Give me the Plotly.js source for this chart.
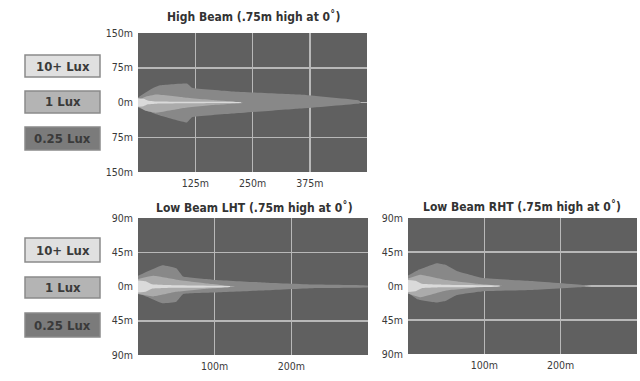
<!DOCTYPE html>
<html><head><meta charset="utf-8">
<script src="https://cdn.plot.ly/plotly-3.0.1.min.js"></script>
<style>html,body{margin:0;padding:0;background:#fff}#chart{width:640px;height:381px}</style>
</head><body><div id="chart"></div>
<script>
// ---- Data (metres) ----
const levels = ["0.25 Lux", "1 Lux", "10+ Lux"];
const levelColors = ["#888888", "#ababab", "#dadada"];
const boxColors = ["#7b7b7b", "#b4b4b4", "#e0e0e0"];

// High Beam
const hi025X = [0, 31, 48, 107, 118, 207, 354, 483, 487];
const hi025Top = [11, 30, 37, 41, 32, 24, 17, 4, 0];
const hi025Bot = [-11, -22, -28, -43, -32, -24, -13, -2, 0];
const hi1X = [0, 15, 40, 100, 170, 228];
const hi1Top = [5, 12, 17, 11, 5, 0];
const hi1Bot = [-8, -17, -22, -12, -5, -1];
const hi10X = [0, 12, 22, 45, 120, 225];
const hi10Top = [9, 8, 4, 2, 1.4, 0.6];
const hi10Bot = [-9, -8, -4, -2, -1.4, -0.6];

// Low Beam LHT
const lht025X = [0, 15, 32, 50, 59, 97, 168, 232, 300];
const lht025Top = [14, 21, 28, 24, 13, 9, 5, 2.6, 1];
const lht025Bot = [-9, -15, -22, -20, -10, -8, -5, -2, -1];
const lht1X = [0, 20, 50, 90, 128];
const lht1Top = [10, 14, 9, 4, 0];
const lht1Bot = [-10, -13, -7, -3, 0];
const lht10X = [0, 10, 18, 45, 120];
const lht10Top = [8, 7, 3, 1.8, 0.5];
const lht10Bot = [-8, -7, -3, -1.8, -0.5];

// Low Beam RHT
const rht025X = [0, 13, 38, 49, 64, 99, 161, 230, 240];
const rht025Top = [14, 21, 30, 28, 20, 10.5, 6.6, 1.3, 0];
const rht025Bot = [-9, -18, -22, -20, -12, -7, -5.3, -1.3, 0];
const rht1X = [0, 16, 50, 90, 125];
const rht1Top = [10, 15, 8, 3, 0];
const rht1Bot = [-10, -15, -6, -2, 0];
const rht10X = [0, 10, 18, 45, 120];
const rht10Top = [8, 7, 3, 1.8, 0.5];
const rht10Bot = [-8, -7, -3, -1.8, -0.5];

const titles = ["High Beam (.75m high at 0˚)", "Low Beam LHT (.75m high at 0˚)", "Low Beam RHT (.75m high at 0˚)"];
const hiXTicks = [125, 250, 375];
const lowXTicks = [100, 200];
const hiYTicks = [150, 75, 0, -75, -150];
const lowYTicks = [90, 45, 0, -45, -90];

// ---- Build ----
function poly(x, top, bot) {
  return {x: x.concat(x.slice().reverse()), y: top.concat(bot.slice().reverse())};
}
const charts = [
  {ax: "", sets: [[hi025X, hi025Top, hi025Bot], [hi1X, hi1Top, hi1Bot], [hi10X, hi10Top, hi10Bot]]},
  {ax: "2", sets: [[lht025X, lht025Top, lht025Bot], [lht1X, lht1Top, lht1Bot], [lht10X, lht10Top, lht10Bot]]},
  {ax: "3", sets: [[rht025X, rht025Top, rht025Bot], [rht1X, rht1Top, rht1Bot], [rht10X, rht10Top, rht10Bot]]}
];
const traces = [];
charts.forEach(c => {
  c.sets.forEach((s, i) => {
    const p = poly(s[0], s[1], s[2]);
    traces.push({type: "scatter", mode: "lines", x: p.x, y: p.y, fill: "toself",
      fillcolor: levelColors[i], line: {width: 0, color: levelColors[i], shape: "spline", smoothing: 0.3},
      xaxis: "x" + c.ax, yaxis: "y" + c.ax, showlegend: false, hoverinfo: "skip"});
  });
});

const FAM = "'DejaVu Sans Condensed', 'Liberation Sans Narrow', sans-serif";
const font = {family: FAM, size: 10.5, color: "#3a3a3a"};
function xax(domain, range, ticks, anchor) {
  return {domain: domain, range: range, anchor: anchor, tickvals: ticks, ticktext: ticks.map(v => v + "m"),
    showgrid: true, gridcolor: "#b8b8b8", gridwidth: 1.5, zeroline: false, showline: false, ticks: "",
    tickfont: font, ticklabelstandoff: 3, fixedrange: true};
}
function yax(domain, range, ticks, anchor) {
  return {domain: domain, range: range, anchor: anchor, tickvals: ticks, ticktext: ticks.map(v => Math.abs(v) + "m"),
    showgrid: true, gridcolor: "#b8b8b8", gridwidth: 1.5, zeroline: false, showline: false, ticks: "",
    tickfont: font, ticklabelstandoff: 4, fixedrange: true};
}
const W = 640, H = 381;
const px = v => v / W, py = v => 1 - v / H;

const layout = {
  width: W, height: H, margin: {l: 0, r: 0, t: 0, b: 0},
  paper_bgcolor: "#fff", plot_bgcolor: "#606060", showlegend: false,
  xaxis: xax([px(138), px(367)], [0, 500], hiXTicks, "y"),
  yaxis: yax([py(172), py(33)], [-150, 150], hiYTicks, "x"),
  xaxis2: xax([px(138), px(368)], [0, 300], lowXTicks, "y2"),
  yaxis2: yax([py(355), py(218)], [-90, 90], lowYTicks, "x2"),
  xaxis3: xax([px(408), px(637)], [0, 300], lowXTicks, "y3"),
  yaxis3: yax([py(354), py(218)], [-90, 90], lowYTicks, "x3"),
  shapes: [], annotations: []
};
const tfont = {family: FAM, size: 12, color: "#333"};
[[titles[0], 253, 17], [titles[1], 254, 207], [titles[2], 522, 206]].forEach(t => {
  layout.annotations.push({text: "<b>" + t[0] + "</b>", x: px(t[1]), y: py(t[2]), xref: "paper", yref: "paper",
    showarrow: false, xanchor: "center", yanchor: "middle", font: tfont});
});
// Legend boxes
const boxRows = [[[55, 77], [91, 113], [127, 150]], [[238, 262], [277, 298], [313, 337]]];
boxRows.forEach(rows => {
  rows.forEach((r, k) => {
    const li = 2 - k; // 10+, 1, 0.25
    layout.shapes.push({type: "rect", xref: "paper", yref: "paper", x0: px(25), x1: px(100), y0: py(r[1]), y1: py(r[0]),
      fillcolor: boxColors[li], line: {color: "#8a8a8a", width: 1.5}});
    layout.annotations.push({text: "<b>" + levels[li] + "</b>", x: px(62.5), y: py((r[0] + r[1]) / 2),
      xref: "paper", yref: "paper", showarrow: false, xanchor: "center", yanchor: "middle",
      font: {family: FAM, size: 13, color: "#3a3a3a"}});
  });
});
Plotly.newPlot("chart", traces, layout, {displayModeBar: false, staticPlot: true});
</script></body></html>
